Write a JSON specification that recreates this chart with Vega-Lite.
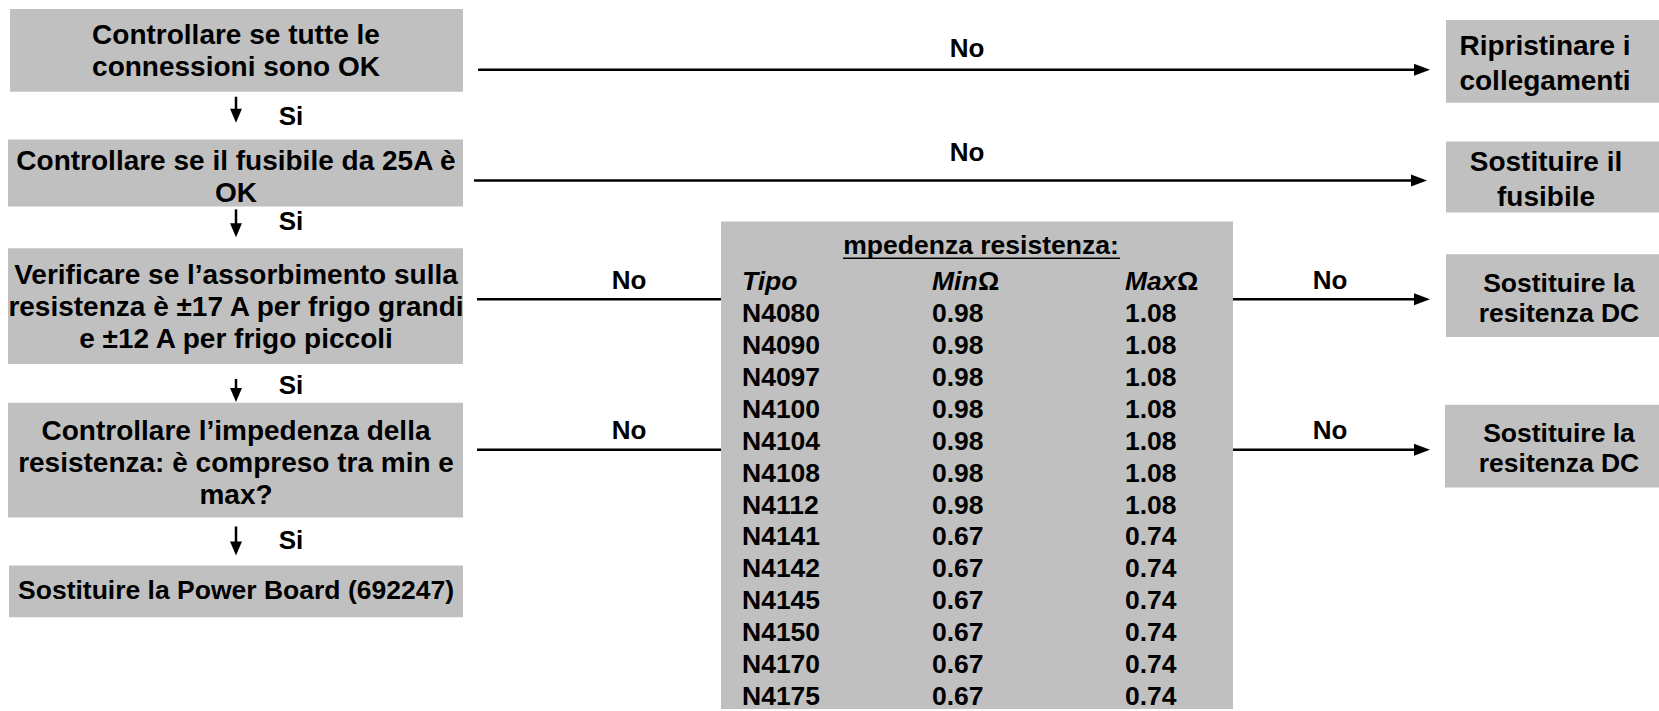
{
  "$schema": "https://vega.github.io/schema/vega-lite/v6.json",
  "width": 1659,
  "height": 711,
  "autosize": {"type": "fit", "contains": "padding"},
  "padding": 0,
  "background": "white",
  "config": {"view": {"stroke": null}, "text": {"font": "Liberation Sans", "fontWeight": "bold", "color": "black"}},
  "datasets": {
    "boxes": [
      {"id": "b1", "x": 10, "x2": 463, "y": 9, "y2": 92},
      {"id": "b2", "x": 8, "x2": 463, "y": 140, "y2": 207},
      {"id": "b3", "x": 8, "x2": 463, "y": 249, "y2": 365},
      {"id": "b4", "x": 8, "x2": 463, "y": 404, "y2": 519},
      {"id": "b5", "x": 9, "x2": 463, "y": 567, "y2": 619},
      {"id": "r1", "x": 1446, "x2": 1659, "y": 20, "y2": 103},
      {"id": "r2", "x": 1446, "x2": 1659, "y": 142, "y2": 213},
      {"id": "r3", "x": 1446, "x2": 1659, "y": 255, "y2": 338},
      {"id": "r4", "x": 1445, "x2": 1659, "y": 406, "y2": 489},
      {"id": "table", "x": 721, "x2": 1233, "y": 222, "y2": 711}
    ],
    "nodes": [
      {"kind": "left", "x": 236, "y": 36, "lines": ["Controllare se tutte le", "connessioni sono OK"]},
      {"kind": "left", "x": 236, "y": 162, "lines": ["Controllare se il fusibile da 25A è", "OK"]},
      {"kind": "left", "x": 236, "y": 277, "lines": ["Verificare se l’assorbimento sulla", "resistenza è ±17 A per frigo grandi", "e ±12 A per frigo piccoli"]},
      {"kind": "left", "x": 236, "y": 433, "lines": ["Controllare l’impedenza della", "resistenza: è compreso tra min e", "max?"]},
      {"kind": "leftS", "x": 236, "y": 593, "lines": ["Sostituire la Power Board (692247)"]},
      {"kind": "right", "x": 1545, "y": 47, "lines": ["Ripristinare i", "collegamenti"]},
      {"kind": "right", "x": 1546, "y": 163, "lines": ["Sostituire il", "fusibile"]},
      {"kind": "rightS", "x": 1559, "y": 285, "lines": ["Sostituire la", "resitenza DC"]},
      {"kind": "rightS", "x": 1559, "y": 435, "lines": ["Sostituire la", "resitenza DC"]}
    ],
    "labels": [
      {"x": 967, "y": 49, "t": "No"},
      {"x": 967, "y": 153, "t": "No"},
      {"x": 629, "y": 282, "t": "No"},
      {"x": 629, "y": 432, "t": "No"},
      {"x": 1330, "y": 282, "t": "No"},
      {"x": 1330, "y": 432, "t": "No"},
      {"x": 291, "y": 117, "t": "Si"},
      {"x": 291, "y": 223, "t": "Si"},
      {"x": 291, "y": 387, "t": "Si"},
      {"x": 291, "y": 543, "t": "Si"}
    ],
    "lines": [
      {"x": 478, "x2": 1422, "y": 70, "y2": 70},
      {"x": 474, "x2": 1419, "y": 181, "y2": 181},
      {"x": 477, "x2": 721, "y": 300, "y2": 300},
      {"x": 1233, "x2": 1422, "y": 300, "y2": 300},
      {"x": 477, "x2": 721, "y": 451, "y2": 451},
      {"x": 1233, "x2": 1422, "y": 451, "y2": 451},
      {"x": 236, "x2": 236, "y": 97, "y2": 116},
      {"x": 236, "x2": 236, "y": 210, "y2": 231},
      {"x": 236, "x2": 236, "y": 380, "y2": 396},
      {"x": 236, "x2": 236, "y": 528, "y2": 550}
    ],
    "heads": [
      {"dir": "right", "x": 1422, "y": 70},
      {"dir": "right", "x": 1419, "y": 181},
      {"dir": "right", "x": 1422, "y": 300},
      {"dir": "right", "x": 1422, "y": 451},
      {"dir": "down", "x": 236, "y": 116},
      {"dir": "down", "x": 236, "y": 231},
      {"dir": "down", "x": 236, "y": 396},
      {"dir": "down", "x": 236, "y": 550}
    ],
    "tableTitle": [
      {"x": 981, "y": 247, "t": "mpedenza resistenza:", "ux": 843, "ux2": 1120, "uy": 259}
    ],
    "tableHead": [
      {"x": 742, "y": 283, "t": "Tipo", "style": "italic"},
      {"x": 932, "y": 283, "t": "Min", "style": "italic"},
      {"x": 978, "y": 283, "t": "Ω", "style": "normal"},
      {"x": 1125, "y": 283, "t": "Max", "style": "italic"},
      {"x": 1177, "y": 283, "t": "Ω", "style": "normal"}
    ],
    "table": [
      {"tipo": "N4080", "min": "0.98", "max": "1.08", "y": 315},
      {"tipo": "N4090", "min": "0.98", "max": "1.08", "y": 347},
      {"tipo": "N4097", "min": "0.98", "max": "1.08", "y": 379},
      {"tipo": "N4100", "min": "0.98", "max": "1.08", "y": 411},
      {"tipo": "N4104", "min": "0.98", "max": "1.08", "y": 443},
      {"tipo": "N4108", "min": "0.98", "max": "1.08", "y": 475},
      {"tipo": "N4112", "min": "0.98", "max": "1.08", "y": 507},
      {"tipo": "N4141", "min": "0.67", "max": "0.74", "y": 539},
      {"tipo": "N4142", "min": "0.67", "max": "0.74", "y": 571},
      {"tipo": "N4145", "min": "0.67", "max": "0.74", "y": 603},
      {"tipo": "N4150", "min": "0.67", "max": "0.74", "y": 635},
      {"tipo": "N4170", "min": "0.67", "max": "0.74", "y": 667},
      {"tipo": "N4175", "min": "0.67", "max": "0.74", "y": 699}
    ]
  },
  "layer": [
    {
      "data": {"name": "boxes"},
      "mark": {"type": "rect", "color": "#c0c0c0"},
      "encoding": {
        "x": {"field": "x", "type": "quantitative", "scale": {"domain": [0, 1659], "nice": false, "zero": false}, "axis": null},
        "x2": {"field": "x2"},
        "y": {"field": "y", "type": "quantitative", "scale": {"domain": [0, 711], "nice": false, "zero": false, "reverse": true}, "axis": null},
        "y2": {"field": "y2"}
      }
    },
    {
      "data": {"name": "lines"},
      "mark": {"type": "rule", "color": "black", "strokeWidth": 2.5},
      "encoding": {
        "x": {"field": "x", "type": "quantitative"},
        "x2": {"field": "x2"},
        "y": {"field": "y", "type": "quantitative"},
        "y2": {"field": "y2"}
      }
    },
    {
      "data": {"name": "heads"},
      "transform": [{"filter": "datum.dir === 'right'"}],
      "mark": {"type": "point", "shape": "M-1,-0.75L1,0L-1,0.75Z", "filled": true, "color": "black", "size": 256, "opacity": 1, "strokeWidth": 0},
      "encoding": {
        "x": {"field": "x", "type": "quantitative"},
        "y": {"field": "y", "type": "quantitative"}
      }
    },
    {
      "data": {"name": "heads"},
      "transform": [{"filter": "datum.dir === 'down'"}],
      "mark": {"type": "point", "shape": "M-0.85,-1L0.85,-1L0,1Z", "filled": true, "color": "black", "size": 196, "opacity": 1, "strokeWidth": 0},
      "encoding": {
        "x": {"field": "x", "type": "quantitative"},
        "y": {"field": "y", "type": "quantitative"}
      }
    },
    {
      "data": {"name": "nodes"},
      "transform": [{"filter": "datum.kind === 'left'"}],
      "mark": {"type": "text", "fontSize": 28, "lineHeight": 32, "align": "center", "baseline": "middle"},
      "encoding": {
        "x": {"field": "x", "type": "quantitative"},
        "y": {"field": "y", "type": "quantitative"},
        "text": {"field": "lines"}
      }
    },
    {
      "data": {"name": "nodes"},
      "transform": [{"filter": "datum.kind === 'leftS'"}],
      "mark": {"type": "text", "fontSize": 26.5, "lineHeight": 32, "align": "center", "baseline": "middle"},
      "encoding": {
        "x": {"field": "x", "type": "quantitative"},
        "y": {"field": "y", "type": "quantitative"},
        "text": {"field": "lines"}
      }
    },
    {
      "data": {"name": "nodes"},
      "transform": [{"filter": "datum.kind === 'right'"}],
      "mark": {"type": "text", "fontSize": 28, "lineHeight": 35, "align": "center", "baseline": "middle"},
      "encoding": {
        "x": {"field": "x", "type": "quantitative"},
        "y": {"field": "y", "type": "quantitative"},
        "text": {"field": "lines"}
      }
    },
    {
      "data": {"name": "nodes"},
      "transform": [{"filter": "datum.kind === 'rightS'"}],
      "mark": {"type": "text", "fontSize": 26.5, "lineHeight": 30, "align": "center", "baseline": "middle"},
      "encoding": {
        "x": {"field": "x", "type": "quantitative"},
        "y": {"field": "y", "type": "quantitative"},
        "text": {"field": "lines"}
      }
    },
    {
      "data": {"name": "labels"},
      "mark": {"type": "text", "fontSize": 26, "align": "center", "baseline": "middle"},
      "encoding": {
        "x": {"field": "x", "type": "quantitative"},
        "y": {"field": "y", "type": "quantitative"},
        "text": {"field": "t"}
      }
    },
    {
      "data": {"name": "tableTitle"},
      "mark": {"type": "text", "fontSize": 26.5, "align": "center", "baseline": "middle"},
      "encoding": {
        "x": {"field": "x", "type": "quantitative"},
        "y": {"field": "y", "type": "quantitative"},
        "text": {"field": "t"}
      }
    },
    {
      "data": {"name": "tableTitle"},
      "mark": {"type": "rule", "color": "black", "strokeWidth": 1.5},
      "encoding": {
        "x": {"field": "ux", "type": "quantitative"},
        "x2": {"field": "ux2"},
        "y": {"field": "uy", "type": "quantitative"}
      }
    },
    {
      "data": {"name": "tableHead"},
      "transform": [{"filter": "datum.style === 'italic'"}],
      "mark": {"type": "text", "fontSize": 26.5, "fontStyle": "italic", "align": "left", "baseline": "middle"},
      "encoding": {
        "x": {"field": "x", "type": "quantitative"},
        "y": {"field": "y", "type": "quantitative"},
        "text": {"field": "t"}
      }
    },
    {
      "data": {"name": "tableHead"},
      "transform": [{"filter": "datum.style === 'normal'"}],
      "mark": {"type": "text", "fontSize": 26.5, "align": "left", "baseline": "middle"},
      "encoding": {
        "x": {"field": "x", "type": "quantitative"},
        "y": {"field": "y", "type": "quantitative"},
        "text": {"field": "t"}
      }
    },
    {
      "data": {"name": "table"},
      "mark": {"type": "text", "fontSize": 26.5, "align": "left", "baseline": "middle"},
      "encoding": {
        "x": {"datum": 742, "type": "quantitative"},
        "y": {"field": "y", "type": "quantitative"},
        "text": {"field": "tipo"}
      }
    },
    {
      "data": {"name": "table"},
      "mark": {"type": "text", "fontSize": 26.5, "align": "left", "baseline": "middle"},
      "encoding": {
        "x": {"datum": 932, "type": "quantitative"},
        "y": {"field": "y", "type": "quantitative"},
        "text": {"field": "min"}
      }
    },
    {
      "data": {"name": "table"},
      "mark": {"type": "text", "fontSize": 26.5, "align": "left", "baseline": "middle"},
      "encoding": {
        "x": {"datum": 1125, "type": "quantitative"},
        "y": {"field": "y", "type": "quantitative"},
        "text": {"field": "max"}
      }
    }
  ]
}
